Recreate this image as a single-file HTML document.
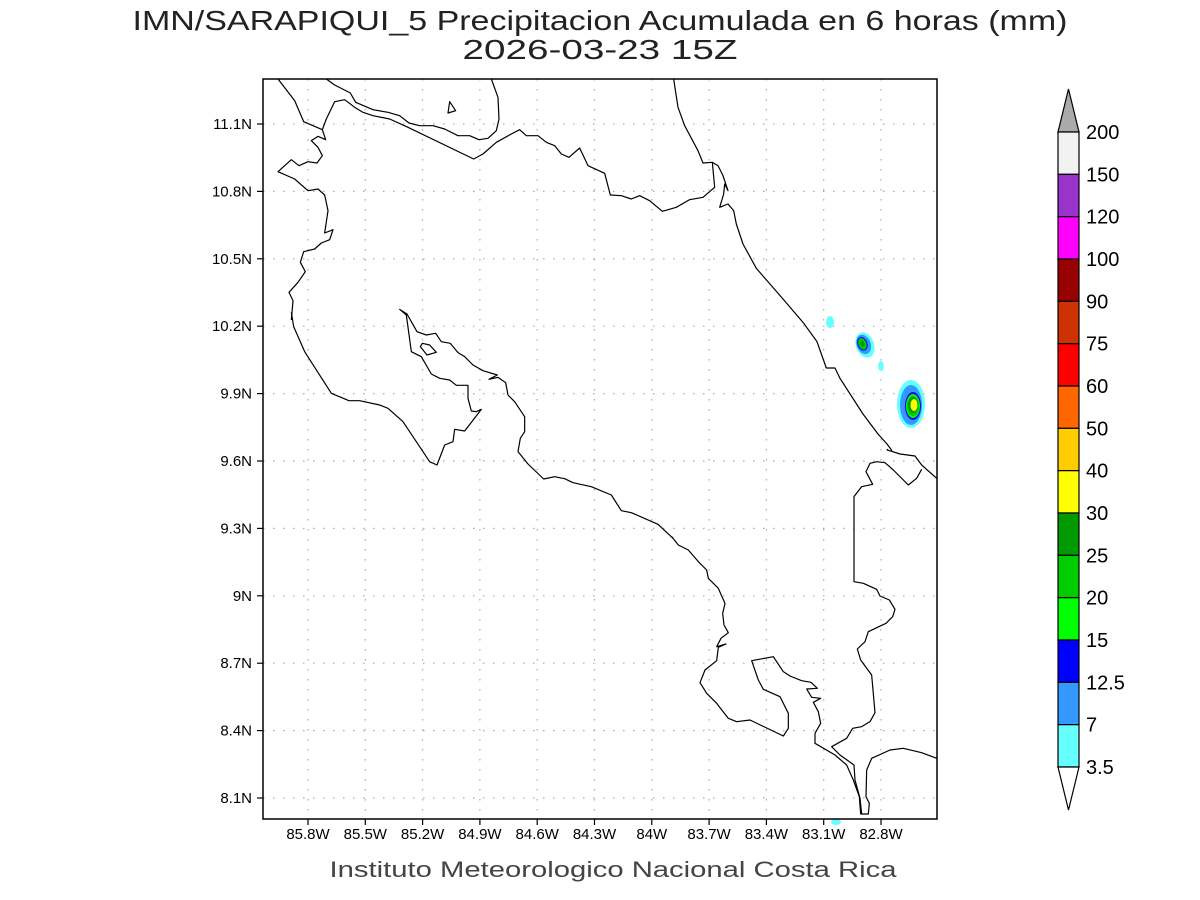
<!DOCTYPE html>
<html><head><meta charset="utf-8"><style>
html,body{margin:0;padding:0;background:#fff}
svg{display:block}
text{font-family:"Liberation Sans",sans-serif;fill:#000}
.c{fill:none;stroke:#000;stroke-width:1.2;vector-effect:non-scaling-stroke;stroke-linejoin:round}
.g{stroke:#aaa;stroke-width:1.2;stroke-dasharray:1.5 8.5}
</style></head><body>
<svg width="1200" height="900" viewBox="0 0 1200 900" xmlns="http://www.w3.org/2000/svg">
<text x="600" y="30" font-size="28" text-anchor="middle" textLength="935" lengthAdjust="spacingAndGlyphs" style="fill:#222">IMN/SARAPIQUI_5 Precipitacion Acumulada en 6 horas (mm)</text>
<text x="600" y="59" font-size="28" text-anchor="middle" textLength="275" lengthAdjust="spacingAndGlyphs" style="fill:#222">2026-03-23 15Z</text>
<text x="613" y="877" font-size="22" text-anchor="middle" textLength="567" lengthAdjust="spacingAndGlyphs" style="fill:#444">Instituto Meteorologico Nacional Costa Rica</text>

<g class="g">
<line x1="308" y1="79" x2="308" y2="819"/><line x1="365.3" y1="79" x2="365.3" y2="819"/><line x1="422.6" y1="79" x2="422.6" y2="819"/><line x1="479.9" y1="79" x2="479.9" y2="819"/><line x1="537.2" y1="79" x2="537.2" y2="819"/><line x1="594.5" y1="79" x2="594.5" y2="819"/><line x1="651.8" y1="79" x2="651.8" y2="819"/><line x1="709.1" y1="79" x2="709.1" y2="819"/><line x1="766.4" y1="79" x2="766.4" y2="819"/><line x1="823.7" y1="79" x2="823.7" y2="819"/><line x1="881" y1="79" x2="881" y2="819"/>
<line x1="263" y1="124" x2="937" y2="124"/><line x1="263" y1="191.4" x2="937" y2="191.4"/><line x1="263" y1="258.8" x2="937" y2="258.8"/><line x1="263" y1="326.2" x2="937" y2="326.2"/><line x1="263" y1="393.6" x2="937" y2="393.6"/><line x1="263" y1="461" x2="937" y2="461"/><line x1="263" y1="528.4" x2="937" y2="528.4"/><line x1="263" y1="595.8" x2="937" y2="595.8"/><line x1="263" y1="663.2" x2="937" y2="663.2"/><line x1="263" y1="730.6" x2="937" y2="730.6"/><line x1="263" y1="798" x2="937" y2="798"/>
</g>

<ellipse cx="830" cy="322" rx="4" ry="6" fill="#66ffff"/>
<ellipse cx="881" cy="366" rx="3" ry="5" fill="#66ffff"/>
<g transform="rotate(-20 865 345)">
<ellipse cx="865" cy="345" rx="9" ry="13" fill="#66ffff"/>
<ellipse cx="864" cy="344" rx="7" ry="10" fill="#3399ff"/>
<ellipse cx="863" cy="343" rx="5" ry="7" fill="#0000ff"/>
<ellipse cx="863" cy="343" rx="4" ry="6" fill="#00cc00"/>
<ellipse cx="863" cy="343" rx="2" ry="3" fill="#009900"/>
</g>
<ellipse cx="911" cy="404" rx="14" ry="24" fill="#66ffff"/>
<ellipse cx="911" cy="405" rx="11" ry="20" fill="#3399ff"/>
<ellipse cx="913" cy="406" rx="8" ry="14" fill="#0000ff"/>
<ellipse cx="913" cy="406" rx="7" ry="12" fill="#00ff00"/>
<ellipse cx="913" cy="406" rx="6" ry="10" fill="#00cc00"/>
<ellipse cx="913" cy="405" rx="5" ry="8" fill="#009900"/>
<ellipse cx="914" cy="405" rx="3.5" ry="6" fill="#ffff00"/>
<ellipse cx="836" cy="822" rx="5" ry="3" fill="#66ffff"/>

<g transform="translate(263,79) scale(0.33333)">
<polyline class="c" points="45,0 95,65 122,128 178,152 188,182 165,172 145,185 165,205 178,230 162,252 135,248 108,260 85,242 45,278 95,300 135,335 165,330 185,348 195,395 185,462 210,452 200,482 175,492 155,510 122,518 112,550 127,578 105,610 78,640 90,665 85,723"/>
<polyline class="c" points="178,152 190,120 215,68 245,62 275,85 300,100 330,110 380,120 435,145 632,240 660,225 700,190 745,165 770,152 790,170 825,170 850,190 875,200 895,225 918,235 950,207 975,260 1025,283 1042,348 1075,350 1105,360 1130,350 1160,365 1198,397 1240,385 1280,362 1320,355 1355,325 1348,250 1320,252 1305,215 1265,140 1245,85 1232,0"/>
<polyline class="c" points="190,0 215,18 262,42 278,70 330,92 375,100 410,110 438,132 470,140 510,140 545,150 585,170 620,170 648,182 675,178 700,155 708,120 705,55 685,0"/>
<polygon class="c" points="555,102 560,68 578,95"/>
<polyline class="c" points="1348,250 1365,260 1380,290 1395,335 1385,315 1382,345 1370,385 1395,375 1412,395 1420,435 1440,495 1480,568 1560,660 1620,730 1662,788 1690,867 1716,867 1731,898 1800,1005 1845,1065 1872,1095 1887,1115"/>
</g>
<g transform="translate(263,300) scale(0.33333)">
<polyline class="c" points="85,37 92,80 125,155 205,280 258,302 290,302 350,315 375,325 420,365 500,485 522,495 545,435 570,425 575,388 605,393 655,328 640,335 625,333 615,295 615,256 580,256 560,240 530,235 505,222 475,170 445,155 430,45 410,28 432,42 462,95 490,105 518,100 535,125 562,130 585,158 605,170 630,195 660,212 703,225 678,238 705,232 728,248 735,285 755,305 785,350 785,395 772,415 765,455 795,492 842,537 875,530 905,536 930,548 985,560 1045,585 1075,632 1105,638 1185,673 1230,715"/>
<polygon class="c" points="472,140 478,130 500,135 520,157 492,165"/>
</g>
<g transform="translate(600,450) scale(0.33333)">
<polyline class="c" points="215,260 235,285 265,300 295,335 320,360 325,385 355,415 375,460 368,490 372,525 385,548 363,565 350,590 378,582 355,592 350,632 315,660 300,698 320,730 350,760 385,805 410,815 450,810 550,858 565,835 565,790 540,740 490,718 475,690 455,632 520,620 550,665 570,678 605,692 633,697 652,715 620,717 635,742 662,745 640,757 655,785 662,820 645,850 645,880 705,915 740,945 760,990 778,1040 782,1092 805,1092 808,1060 798,1040 800,960 815,925 870,900 910,895 965,908 1010,925"/>
<polyline class="c" points="861,-3 862,0 900,12 945,18 965,45 1010,85"/>
<polyline class="c" points="965,58 950,85 925,105 880,60 855,38 830,35 810,40 798,65 818,103 785,110 762,140 762,395 790,400 830,418 840,438 868,450 885,478 878,500 858,520 805,545 795,575 772,597 782,630 815,675 825,788 810,815 785,830 758,835 740,865 695,890 720,915 762,945 765,990 780,1045 785,1092"/>
</g>

<rect x="263" y="79" width="674" height="740" fill="none" stroke="#000" stroke-width="1.5"/>
<g stroke="#000" stroke-width="1.2">
<line x1="308" y1="819" x2="308" y2="825"/><line x1="365.3" y1="819" x2="365.3" y2="825"/><line x1="422.6" y1="819" x2="422.6" y2="825"/><line x1="479.9" y1="819" x2="479.9" y2="825"/><line x1="537.2" y1="819" x2="537.2" y2="825"/><line x1="594.5" y1="819" x2="594.5" y2="825"/><line x1="651.8" y1="819" x2="651.8" y2="825"/><line x1="709.1" y1="819" x2="709.1" y2="825"/><line x1="766.4" y1="819" x2="766.4" y2="825"/><line x1="823.7" y1="819" x2="823.7" y2="825"/><line x1="881" y1="819" x2="881" y2="825"/>
<line x1="257" y1="124" x2="263" y2="124"/><line x1="257" y1="191.4" x2="263" y2="191.4"/><line x1="257" y1="258.8" x2="263" y2="258.8"/><line x1="257" y1="326.2" x2="263" y2="326.2"/><line x1="257" y1="393.6" x2="263" y2="393.6"/><line x1="257" y1="461" x2="263" y2="461"/><line x1="257" y1="528.4" x2="263" y2="528.4"/><line x1="257" y1="595.8" x2="263" y2="595.8"/><line x1="257" y1="663.2" x2="263" y2="663.2"/><line x1="257" y1="730.6" x2="263" y2="730.6"/><line x1="257" y1="798" x2="263" y2="798"/>
</g>
<g font-size="15" text-anchor="end">
<text x="252" y="129">11.1N</text><text x="252" y="196.4">10.8N</text><text x="252" y="263.8">10.5N</text><text x="252" y="331.2">10.2N</text><text x="252" y="398.6">9.9N</text><text x="252" y="466">9.6N</text><text x="252" y="533.4">9.3N</text><text x="252" y="600.8">9N</text><text x="252" y="668.2">8.7N</text><text x="252" y="735.6">8.4N</text><text x="252" y="803">8.1N</text>
</g>
<g font-size="15" text-anchor="middle">
<text x="308" y="839">85.8W</text><text x="365.3" y="839">85.5W</text><text x="422.6" y="839">85.2W</text><text x="479.9" y="839">84.9W</text><text x="537.2" y="839">84.6W</text><text x="594.5" y="839">84.3W</text><text x="651.8" y="839">84W</text><text x="709.1" y="839">83.7W</text><text x="766.4" y="839">83.4W</text><text x="823.7" y="839">83.1W</text><text x="881" y="839">82.8W</text>
</g>

<g stroke="#000" stroke-width="1.2">
<polygon points="1058,132 1079,132 1068.5,89" fill="#aaaaaa"/>
<rect x="1058" y="132" width="21" height="42.33" fill="#f2f2f2"/>
<rect x="1058" y="174.33" width="21" height="42.33" fill="#9933cc"/>
<rect x="1058" y="216.67" width="21" height="42.33" fill="#ff00ff"/>
<rect x="1058" y="259" width="21" height="42.33" fill="#990000"/>
<rect x="1058" y="301.33" width="21" height="42.33" fill="#cc3300"/>
<rect x="1058" y="343.67" width="21" height="42.33" fill="#ff0000"/>
<rect x="1058" y="386" width="21" height="42.33" fill="#ff6600"/>
<rect x="1058" y="428.33" width="21" height="42.33" fill="#ffcc00"/>
<rect x="1058" y="470.67" width="21" height="42.33" fill="#ffff00"/>
<rect x="1058" y="513" width="21" height="42.33" fill="#009900"/>
<rect x="1058" y="555.33" width="21" height="42.33" fill="#00cc00"/>
<rect x="1058" y="597.67" width="21" height="42.33" fill="#00ff00"/>
<rect x="1058" y="640" width="21" height="42.33" fill="#0000ff"/>
<rect x="1058" y="682.33" width="21" height="42.33" fill="#3399ff"/>
<rect x="1058" y="724.67" width="21" height="42.33" fill="#66ffff"/>
<polygon points="1058,767 1079,767 1068.5,810" fill="#ffffff"/>
</g>
<g font-size="20">
<text x="1086" y="139">200</text><text x="1086" y="181.3">150</text><text x="1086" y="223.7">120</text><text x="1086" y="266">100</text><text x="1086" y="308.3">90</text><text x="1086" y="350.7">75</text><text x="1086" y="393">60</text><text x="1086" y="435.3">50</text><text x="1086" y="477.7">40</text><text x="1086" y="520">30</text><text x="1086" y="562.3">25</text><text x="1086" y="604.7">20</text><text x="1086" y="647">15</text><text x="1086" y="689.3">12.5</text><text x="1086" y="731.7">7</text><text x="1086" y="774">3.5</text>
</g>
</svg>
</body></html>
